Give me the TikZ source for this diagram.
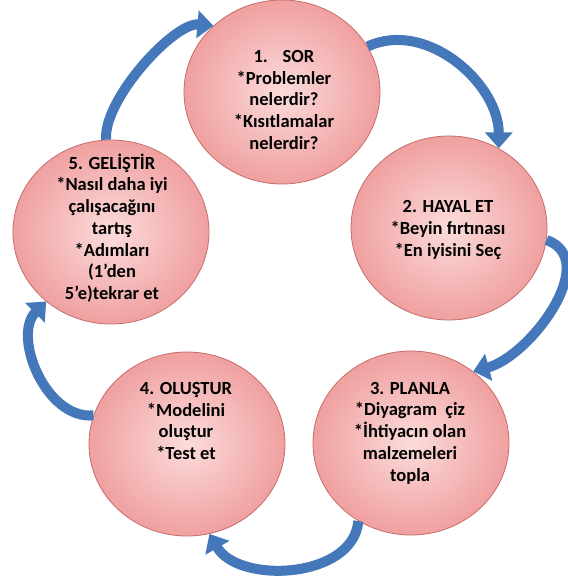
\documentclass[tikz,border=0pt]{standalone}
\usepackage{fontspec}
\setmainfont{Carlito}
\usetikzlibrary{shapes.geometric,arrows.meta}
\definecolor{ballin}{RGB}{251,220,219}
\definecolor{ballout}{RGB}{240,160,160}
\definecolor{balledge}{RGB}{198,108,106}
\definecolor{flowblue}{RGB}{68,120,186}
\tikzset{
  ball/.style={ellipse, draw=balledge, line width=0.8pt, minimum width=196pt,
    minimum height=184pt, inner sep=0pt, shading=radial,
    inner color=ballin, outer color=ballout},
  balltext/.style={align=center, font=\bfseries\fontsize{18.5}{21.7}\selectfont},
  flow/.style={draw=flowblue, line width=10pt, -{Triangle[width=27pt,length=16pt]}},
}
\begin{document}
\begin{tikzpicture}[x=1pt,y=1pt]
  \useasboundingbox (0,0) rectangle (567,-585);
  % circles
  \node[ball] (sor) at (282,-92) {};
  \node[ball] (hayal) at (449,-228) {};
  \node[ball] (plan) at (411,-443) {};
  \node[ball] (olus) at (187,-444) {};
  \node[ball] (gelis) at (111,-232) {};
  % texts
  \node[balltext] (sort) at (284,-100) {1.\hspace{0.8em}SOR\\*Problemler\\nelerdir?\\*Kısıtlamalar\\nelerdir?};
  \node[balltext] (hayalt) at (448,-230) {2. HAYAL ET\\*Beyin fırtınası\\*En iyisini Seç};
  \node[balltext] (plant) at (410,-433) {3. PLANLA\\*Diyagram\ \ çiz\\*İhtiyacın olan\\malzemeleri\\topla};
  \node[balltext] (olust) at (186,-421) {4. OLUŞTUR\\*Modelini\\oluştur\\*Test et};
  \node[balltext] (gelist) at (112,-228) {5. GELİŞTİR\\*Nasıl daha iyi\\çalışacağını\\tartış\\*Adımları\\(1’den\\5’e)tekrar et};
  % arrows
  \draw[flow] (gelis.93) to[out=95,in=175,looseness=0.65] (sor.136);
  \draw[flow] (sor.28) to[out=25,in=90] (hayal.58);
  \draw[flow] (hayal.-7) to[out=-20,in=15] (plan.49);
  \draw[flow] (plan.236) to[out=-95,in=-60] (olus.-76);
  \draw[flow] (olus.163) to[out=185,in=225] (gelis.227);
\end{tikzpicture}
\end{document}
